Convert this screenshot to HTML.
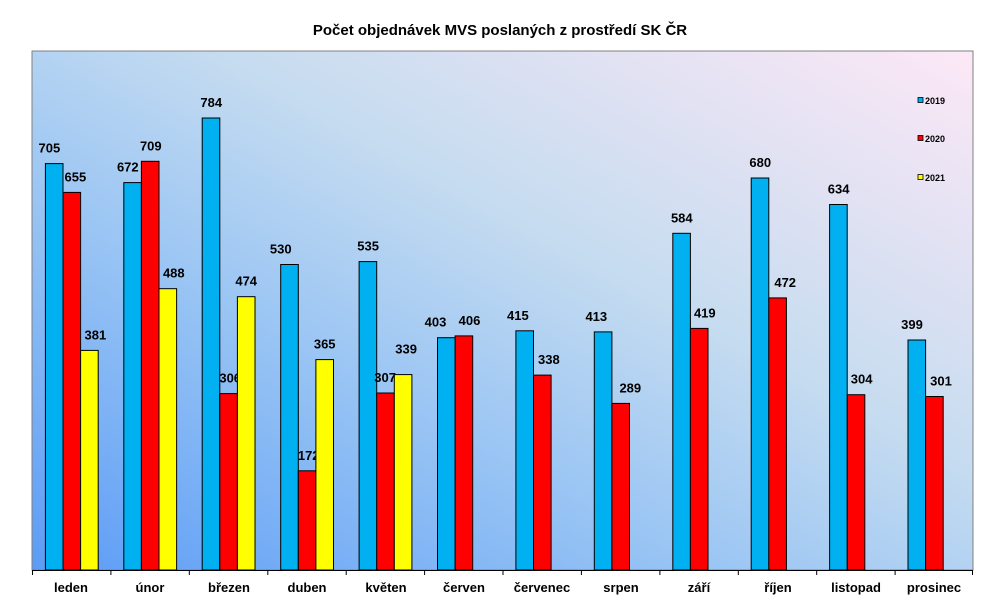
<!DOCTYPE html>
<html><head><meta charset="utf-8"><style>
html,body{margin:0;padding:0;background:#fff}
svg{display:block}
text{font-family:"Liberation Sans",Arial,sans-serif;font-weight:bold;fill:#000}
</style></head><body>
<svg width="1000" height="611" viewBox="0 0 1000 611" xmlns="http://www.w3.org/2000/svg">
<defs>
<linearGradient id="bg" x1="0" y1="1" x2="1" y2="0">
<stop offset="0" stop-color="#5c9cf6"/>
<stop offset="0.35" stop-color="#98c4f4"/>
<stop offset="0.6" stop-color="#c6dcf0"/>
<stop offset="1" stop-color="#fde8f6"/>
</linearGradient>
</defs>
<text x="500" y="35" text-anchor="middle" font-size="15">Počet objednávek MVS poslaných z prostředí SK ČR</text>
<rect x="32" y="51" width="941" height="519" fill="url(#bg)" stroke="#808080" stroke-width="1"/>
<g stroke="#000" stroke-width="1" font-size="13">
<g transform="translate(45.4,0)">
<rect x="0" y="163.6" width="17.6" height="406.4" fill="#00b0f0"/><text stroke="none" x="4" y="152.6" text-anchor="middle">705</text>
<rect x="17.6" y="192.4" width="17.6" height="377.6" fill="#ff0000"/><text stroke="none" x="30" y="181.4" text-anchor="middle">655</text>
<rect x="35.2" y="350.4" width="17.6" height="219.6" fill="#ffff00"/><text stroke="none" x="50" y="339.4" text-anchor="middle">381</text>
</g>
<g transform="translate(123.8,0)">
<rect x="0" y="182.6" width="17.6" height="387.4" fill="#00b0f0"/><text stroke="none" x="4" y="171.6" text-anchor="middle">672</text>
<rect x="17.6" y="161.3" width="17.6" height="408.7" fill="#ff0000"/><text stroke="none" x="27" y="150.3" text-anchor="middle">709</text>
<rect x="35.2" y="288.7" width="17.6" height="281.3" fill="#ffff00"/><text stroke="none" x="50" y="277.7" text-anchor="middle">488</text>
</g>
<g transform="translate(202.2,0)">
<rect x="0" y="118" width="17.6" height="452" fill="#00b0f0"/><text stroke="none" x="9" y="107" text-anchor="middle">784</text>
<rect x="17.6" y="393.6" width="17.6" height="176.4" fill="#ff0000"/><text stroke="none" x="28" y="382.6" text-anchor="middle">306</text>
<rect x="35.2" y="296.7" width="17.6" height="273.3" fill="#ffff00"/><text stroke="none" x="44" y="285.7" text-anchor="middle">474</text>
</g>
<g transform="translate(280.7,0)">
<rect x="0" y="264.5" width="17.6" height="305.5" fill="#00b0f0"/><text stroke="none" x="0" y="253.5" text-anchor="middle">530</text>
<rect x="17.6" y="470.8" width="17.6" height="99.2" fill="#ff0000"/><text stroke="none" x="28" y="459.8" text-anchor="middle">172</text>
<rect x="35.2" y="359.6" width="17.6" height="210.4" fill="#ffff00"/><text stroke="none" x="44" y="348.6" text-anchor="middle">365</text>
</g>
<g transform="translate(359.1,0)">
<rect x="0" y="261.6" width="17.6" height="308.4" fill="#00b0f0"/><text stroke="none" x="9" y="250.6" text-anchor="middle">535</text>
<rect x="17.6" y="393" width="17.6" height="177" fill="#ff0000"/><text stroke="none" x="26" y="382" text-anchor="middle">307</text>
<rect x="35.2" y="374.6" width="17.6" height="195.4" fill="#ffff00"/><text stroke="none" x="47" y="353.6" text-anchor="middle">339</text>
</g>
<g transform="translate(437.5,0)">
<rect x="0" y="337.7" width="17.6" height="232.3" fill="#00b0f0"/><text stroke="none" x="-2" y="356.7" text-anchor="middle" dy="-30">403</text>
<rect x="17.6" y="335.9" width="17.6" height="234.1" fill="#ff0000"/><text stroke="none" x="32" y="326.9" dy="-2" text-anchor="middle">406</text>
</g>
<g transform="translate(515.9,0)">
<rect x="0" y="330.8" width="17.6" height="239.2" fill="#00b0f0"/><text stroke="none" x="2" y="319.8" text-anchor="middle">415</text>
<rect x="17.6" y="375.1" width="17.6" height="194.9" fill="#ff0000"/><text stroke="none" x="33" y="364.1" text-anchor="middle">338</text>
</g>
<g transform="translate(594.3,0)">
<rect x="0" y="331.9" width="17.6" height="238.1" fill="#00b0f0"/><text stroke="none" x="2" y="320.9" text-anchor="middle">413</text>
<rect x="17.6" y="403.4" width="17.6" height="166.6" fill="#ff0000"/><text stroke="none" x="36" y="392.4" text-anchor="middle">289</text>
</g>
<g transform="translate(672.8,0)">
<rect x="0" y="233.3" width="17.6" height="336.7" fill="#00b0f0"/><text stroke="none" x="9" y="222.3" text-anchor="middle">584</text>
<rect x="17.6" y="328.4" width="17.6" height="241.6" fill="#ff0000"/><text stroke="none" x="32" y="317.4" text-anchor="middle">419</text>
</g>
<g transform="translate(751.2,0)">
<rect x="0" y="178" width="17.6" height="392" fill="#00b0f0"/><text stroke="none" x="9" y="167" text-anchor="middle">680</text>
<rect x="17.6" y="297.9" width="17.6" height="272.1" fill="#ff0000"/><text stroke="none" x="34" y="286.9" text-anchor="middle">472</text>
</g>
<g transform="translate(829.6,0)">
<rect x="0" y="204.5" width="17.6" height="365.5" fill="#00b0f0"/><text stroke="none" x="9" y="193.5" text-anchor="middle">634</text>
<rect x="17.6" y="394.7" width="17.6" height="175.3" fill="#ff0000"/><text stroke="none" x="32" y="383.7" text-anchor="middle">304</text>
</g>
<g transform="translate(908,0)">
<rect x="0" y="340" width="17.6" height="230" fill="#00b0f0"/><text stroke="none" x="4" y="329" text-anchor="middle">399</text>
<rect x="17.6" y="396.5" width="17.6" height="173.5" fill="#ff0000"/><text stroke="none" x="33" y="385.5" text-anchor="middle">301</text>
</g>
</g>
<g stroke="#000" stroke-width="1">
<line x1="32" y1="570.5" x2="973" y2="570.5"/>
<line x1="32.5" y1="570" x2="32.5" y2="575"/><line x1="110.9" y1="570" x2="110.9" y2="575"/>
<line x1="189.3" y1="570" x2="189.3" y2="575"/><line x1="267.8" y1="570" x2="267.8" y2="575"/>
<line x1="346.2" y1="570" x2="346.2" y2="575"/><line x1="424.6" y1="570" x2="424.6" y2="575"/>
<line x1="503" y1="570" x2="503" y2="575"/><line x1="581.4" y1="570" x2="581.4" y2="575"/>
<line x1="659.9" y1="570" x2="659.9" y2="575"/><line x1="738.3" y1="570" x2="738.3" y2="575"/>
<line x1="816.7" y1="570" x2="816.7" y2="575"/><line x1="895.1" y1="570" x2="895.1" y2="575"/>
<line x1="972.5" y1="570" x2="972.5" y2="575"/>
</g>
<g font-size="13" text-anchor="middle">
<text x="71" y="592">leden</text><text x="150" y="592">únor</text><text x="229" y="592">březen</text>
<text x="307" y="592">duben</text><text x="386" y="592">květen</text><text x="464" y="592">červen</text>
<text x="542" y="592">červenec</text><text x="621" y="592">srpen</text><text x="699" y="592">září</text>
<text x="778" y="592">říjen</text><text x="856" y="592">listopad</text><text x="934" y="592">prosinec</text>
</g>
<g font-size="9" stroke="#000" stroke-width="0.8">
<rect x="918" y="97.5" width="5" height="5" fill="#00b0f0"/><text stroke="none" x="925" y="104">2019</text>
<rect x="918" y="135.5" width="5" height="5" fill="#ff0000"/><text stroke="none" x="925" y="142">2020</text>
<rect x="918" y="174.5" width="5" height="5" fill="#ffff00"/><text stroke="none" x="925" y="181">2021</text>
</g>
</svg>
</body></html>
